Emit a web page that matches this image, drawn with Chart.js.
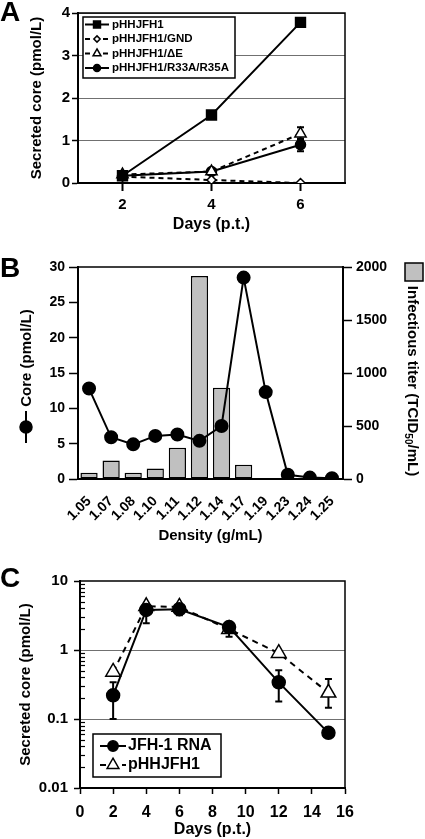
<!DOCTYPE html>
<html>
<head>
<meta charset="utf-8">
<script src="https://cdn.jsdelivr.net/npm/chart.js@4.4.1/dist/chart.umd.min.js"></script>
<style>
  html, body { margin: 0; padding: 0; background: #fff; }
  body { width: 425px; height: 839px; position: relative; overflow: hidden; }
  .panel { position: absolute; left: 0; width: 425px; }
  .letter { position: absolute; left: 0; font: bold 28px "Liberation Sans", Arial, sans-serif; line-height: 28px; color: #000; }
</style>
</head>
<body>
<div class="panel" style="top:0;height:235px"><canvas id="chartA"></canvas></div>
<div class="panel" style="top:250px;height:295px"><canvas id="chartB"></canvas></div>
<div class="panel" style="top:565px;height:274px"><canvas id="chartC"></canvas></div>
<div class="letter" style="top:-2px">A</div>
<div class="letter" style="top:254px">B</div>
<div class="letter" style="top:564px">C</div>
<script>
'use strict';

Chart.defaults.font.family = '"Liberation Sans", Arial, sans-serif';
Chart.defaults.font.weight = 'bold';
Chart.defaults.color = '#000';
Chart.defaults.animation = false;

// Panel A - secreted core after transfection
const daysA = ['2', '4', '6'];
const wtA = [0.17, 1.6, 3.78];
const gndA = [0.15, 0.07, 0.0];
const deltaEA = [0.2, 0.27, 1.16];
const r33A = [0.17, 0.27, 0.9];
const deltaEErrA = [0.04, 0.03, 0.15];
const r33ErrA = [0.03, 0.03, 0.15];
const ticksA = [0, 1, 2, 3, 4];

// Panel B - density gradient
const densityB = ['1.05', '1.07', '1.08', '1.10', '1.11', '1.12', '1.14', '1.17', '1.19', '1.23', '1.24', '1.25'];
const coreB = [12.8, 5.9, 4.9, 6.1, 6.3, 5.4, 7.5, 28.5, 12.3, 0.6, 0.2, 0.1];
const titerB = [60, 175, 60, 100, 295, 1915, 860, 135, 10, 3, 0, 0];

// Panel C - JFH-1 RNA vs pHHJFH1 (log scale)
const daysC = [2, 4, 6, 9, 12, 15];
const jfhC = [0.22, 3.8, 3.9, 2.15, 0.34, 0.063];
const jfhLowC = [0.1, 2.45, 3.2, 1.55, 0.18, null];
const jfhHighC = [0.34, 4.3, 4.3, 2.4, 0.51, null];
const phhC = [0.48, 4.3, 4.2, 2.0, 0.9, 0.24];
const phhLowC = [null, null, null, null, null, 0.145];
const phhHighC = [null, null, null, null, null, 0.38];
const decadesC = [0.01, 0.1, 1, 10];

const FONT = '"Liberation Sans", Arial, sans-serif';

function drawMarker(ctx, style, r, x, y, fill) {
  ctx.beginPath();
  if (style === 'rect') {
    const s = Math.SQRT1_2 * r;
    ctx.rect(x - s, y - s, 2 * s, 2 * s);
  } else if (style === 'rectRot') {
    ctx.moveTo(x, y - r); ctx.lineTo(x + r, y); ctx.lineTo(x, y + r); ctx.lineTo(x - r, y); ctx.closePath();
  } else if (style === 'triangle') {
    let a = 0;
    ctx.moveTo(x + Math.sin(a) * r, y - Math.cos(a) * r);
    a += Math.PI * 2 / 3; ctx.lineTo(x + Math.sin(a) * r, y - Math.cos(a) * r);
    a += Math.PI * 2 / 3; ctx.lineTo(x + Math.sin(a) * r, y - Math.cos(a) * r);
    ctx.closePath();
  } else {
    ctx.arc(x, y, r, 0, Math.PI * 2);
  }
  ctx.fillStyle = fill;
  ctx.fill();
  ctx.strokeStyle = '#000';
  ctx.lineWidth = 1.5;
  ctx.stroke();
}

// box round the plot area + error bars, under the markers
const frameAndErrors = {
  id: 'frameAndErrors',
  beforeDatasetsDraw(chart) {
    const ctx = chart.ctx;
    const a = chart.chartArea;
    ctx.save();
    ctx.strokeStyle = '#000';
    ctx.lineWidth = 1.5;
    ctx.strokeRect(a.left, a.top, a.right - a.left, a.bottom - a.top);
    // minor log ticks point inward
    const ys = chart.scales.y;
    if (ys.type === 'logarithmic') {
      ctx.lineWidth = 1.2;
      ys.ticks.forEach(t => {
        if (t.major) return;
        const py = Math.round(ys.getPixelForValue(t.value)) + 0.5;
        ctx.beginPath();
        ctx.moveTo(a.left, py); ctx.lineTo(a.left + 5, py);
        ctx.stroke();
      });
    }
    chart.data.datasets.forEach((ds, di) => {
      if (!ds.errLow) return;
      const meta = chart.getDatasetMeta(di);
      const yScale = chart.scales[meta.yAxisID];
      ctx.lineWidth = 2;
      meta.data.forEach((pt, i) => {
        const lo = ds.errLow[i], hi = ds.errHigh[i];
        if (lo == null) return;
        const y1 = yScale.getPixelForValue(lo);
        const y2 = yScale.getPixelForValue(hi);
        ctx.beginPath();
        ctx.moveTo(pt.x, y1); ctx.lineTo(pt.x, y2);
        ctx.moveTo(pt.x - 3.5, y1); ctx.lineTo(pt.x + 3.5, y1);
        ctx.moveTo(pt.x - 3.5, y2); ctx.lineTo(pt.x + 3.5, y2);
        ctx.stroke();
      });
    });
    ctx.restore();
  }
};

const boxLegend = {
  id: 'boxLegend',
  afterDraw(chart, args, opts) {
    if (!opts || !opts.w) return;
    const ctx = chart.ctx;
    ctx.save();
    ctx.fillStyle = '#fff';
    ctx.fillRect(opts.x, opts.y, opts.w, opts.h);
    ctx.strokeStyle = '#000';
    ctx.lineWidth = 1.5;
    ctx.strokeRect(opts.x, opts.y, opts.w, opts.h);
    ctx.font = 'bold ' + opts.fontSize + 'px ' + FONT;
    ctx.textBaseline = 'middle';
    chart.data.datasets.forEach((ds, i) => {
      const y = opts.y + opts.firstRow + i * opts.rowH;
      const x0 = opts.x + opts.lineX;
      ctx.strokeStyle = '#000';
      ctx.lineWidth = 2;
      ctx.setLineDash(ds.borderDash || []);
      ctx.beginPath();
      ctx.moveTo(x0, y); ctx.lineTo(x0 + opts.lineLen, y);
      ctx.stroke();
      ctx.setLineDash([]);
      drawMarker(ctx, ds.pointStyle, ds.pointRadius * opts.markerScale, x0 + opts.lineLen / 2, y, ds.pointBackgroundColor);
      ctx.fillStyle = '#000';
      ctx.fillText(ds.label, x0 + opts.lineLen + opts.gap, y);
    });
    ctx.restore();
  }
};

// y titles of panel B, with their little legend keys
const sideTitlesB = {
  id: 'sideTitlesB',
  afterDraw(chart) {
    const ctx = chart.ctx;
    const top = chart.chartArea.top;
    ctx.save();
    ctx.fillStyle = '#000';
    ctx.font = 'bold 15px ' + FONT;
    ctx.textAlign = 'center';
    ctx.textBaseline = 'middle';
    // left: core
    ctx.save();
    ctx.translate(27, top + 91);
    ctx.rotate(-Math.PI / 2);
    ctx.fillText('Core (pmol/L)', 0, 0);
    ctx.restore();
    ctx.strokeStyle = '#000';
    ctx.lineWidth = 2;
    ctx.beginPath();
    ctx.moveTo(26, top + 144); ctx.lineTo(26, top + 176);
    ctx.stroke();
    drawMarker(ctx, 'circle', 6, 26, top + 160, '#000');
    // right: infectious titer
    ctx.save();
    ctx.translate(412, top + 114);
    ctx.rotate(Math.PI / 2);
    ctx.textAlign = 'left';
    const p1 = 'Infectious titer (TCID', p2 = '50', p3 = '/mL)';
    ctx.font = 'bold 15px ' + FONT;
    const w1 = ctx.measureText(p1).width, w3 = ctx.measureText(p3).width;
    ctx.font = 'bold 10px ' + FONT;
    const w2 = ctx.measureText(p2).width;
    let x = -(w1 + w2 + w3) / 2;
    ctx.font = 'bold 15px ' + FONT;
    ctx.fillText(p1, x, 0); x += w1;
    ctx.font = 'bold 10px ' + FONT;
    ctx.fillText(p2, x, 4); x += w2;
    ctx.font = 'bold 15px ' + FONT;
    ctx.fillText(p3, x, 0);
    ctx.restore();
    ctx.fillStyle = '#c0c0c0';
    ctx.fillRect(405, top - 4, 18, 18);
    ctx.lineWidth = 1.5;
    ctx.strokeRect(405, top - 4, 18, 18);
    ctx.restore();
  }
};

function lineSet(label, data, style, radius, fill, dashed) {
  return {
    label: label,
    data: data,
    borderColor: '#000',
    borderWidth: 2,
    borderDash: dashed ? [5, 4] : [],
    pointStyle: style,
    pointRadius: radius,
    pointBackgroundColor: fill,
    pointBorderColor: '#000',
    pointBorderWidth: 1.5,
    tension: 0
  };
}

// ---------- A ----------
const dsA = [
  lineSet('pHHJFH1', wtA, 'rect', 7, '#000', false),
  lineSet('pHHJFH1/GND', gndA, 'rectRot', 4.5, '#fff', true),
  lineSet('pHHJFH1/\u0394E', deltaEA, 'triangle', 6.5, '#fff', true),
  lineSet('pHHJFH1/R33A/R35A', r33A, 'circle', 5, '#000', false)
];
dsA[2].errLow = deltaEA.map((v, i) => v - deltaEErrA[i]);
dsA[2].errHigh = deltaEA.map((v, i) => v + deltaEErrA[i]);
dsA[3].errLow = r33A.map((v, i) => v - r33ErrA[i]);
dsA[3].errHigh = r33A.map((v, i) => v + r33ErrA[i]);

new Chart(document.getElementById('chartA'), {
  type: 'line',
  data: { labels: daysA, datasets: dsA },
  options: {
    responsive: true,
    maintainAspectRatio: false,
    layout: { padding: { top: 13, right: 80, left: 0, bottom: 0 } },
    scales: {
      x: {
        offset: true,
        grid: { offset: false, drawOnChartArea: false, tickLength: 8, tickColor: '#000', tickWidth: 2 },
        border: { color: '#000', width: 2 },
        ticks: { font: { size: 15 }, padding: 5 },
        title: { display: true, text: 'Days (p.t.)', font: { size: 16 }, padding: { top: 0, bottom: 1 } },
        afterFit: s => { s.height = 52; }
      },
      y: {
        min: 0,
        max: 4,
        afterBuildTicks: s => { s.ticks = ticksA.map(v => ({ value: v })); },
        grid: { color: '#707070', tickColor: '#000', tickLength: 6, tickWidth: 1.5 },
        border: { color: '#000', width: 2 },
        ticks: { font: { size: 15 }, padding: 2 },
        title: { display: true, text: 'Secreted core (pmol/L)', font: { size: 15 }, padding: { top: 28, bottom: 0 } },
        afterFit: s => { s.width = 78; }
      }
    },
    plugins: {
      legend: { display: false },
      tooltip: { enabled: false },
      boxLegend: { x: 83, y: 17, w: 152, h: 61, firstRow: 7.5, rowH: 14.5, lineX: 2, lineLen: 24, gap: 3, fontSize: 11.5, markerScale: 0.7 }
    }
  },
  plugins: [frameAndErrors, boxLegend]
});

// ---------- B ----------
new Chart(document.getElementById('chartB'), {
  type: 'bar',
  data: {
    labels: densityB,
    datasets: [
      {
        type: 'line',
        label: 'Core',
        data: coreB,
        yAxisID: 'y',
        order: 0,
        borderColor: '#000',
        borderWidth: 2,
        pointStyle: 'circle',
        pointRadius: 6,
        pointBackgroundColor: '#000',
        pointBorderColor: '#000',
        tension: 0
      },
      {
        type: 'bar',
        label: 'Infectious titer',
        data: titerB,
        yAxisID: 'y2',
        order: 1,
        backgroundColor: '#c0c0c0',
        borderColor: '#000',
        borderWidth: 1.5,
        borderSkipped: false,
        barPercentage: 0.78,
        categoryPercentage: 1.0
      }
    ]
  },
  options: {
    responsive: true,
    maintainAspectRatio: false,
    layout: { padding: { top: 17, right: 0, left: 0, bottom: 0 } },
    scales: {
      x: {
        grid: { drawOnChartArea: false, drawTicks: false },
        border: { color: '#000', width: 2 },
        ticks: { font: { size: 14 }, minRotation: 45, maxRotation: 45, autoSkip: false, padding: 14 },
        title: { display: true, text: 'Density (g/mL)', font: { size: 15 }, padding: 0 },
        afterFit: s => { s.height = 66; }
      },
      y: {
        position: 'left',
        min: 0,
        max: 30,
        ticks: { stepSize: 5, font: { size: 14 }, padding: 4 },
        grid: { drawOnChartArea: false, tickLength: 9, tickColor: '#000', tickWidth: 1.5 },
        border: { color: '#000', width: 2 },
        afterFit: s => { s.width = 78; }
      },
      y2: {
        position: 'right',
        min: 0,
        max: 2000,
        ticks: { stepSize: 500, font: { size: 14 }, padding: 4, callback: v => String(v) },
        grid: { drawOnChartArea: false, tickLength: 9, tickColor: '#000', tickWidth: 1.5 },
        border: { color: '#000', width: 2 },
        afterFit: s => { s.width = 82; }
      }
    },
    plugins: { legend: { display: false }, tooltip: { enabled: false } }
  },
  plugins: [frameAndErrors, sideTitlesB]
});

// ---------- C ----------
const jfhSet = lineSet('JFH-1 RNA', daysC.map((d, i) => ({ x: d, y: jfhC[i] })), 'circle', 6.5, '#000', false);
jfhSet.errLow = jfhLowC;
jfhSet.errHigh = jfhHighC;
const phhSet = lineSet('pHHJFH1', daysC.map((d, i) => ({ x: d, y: phhC[i] })), 'triangle', 8.5, '#fff', true);
phhSet.borderDash = [6, 5];
phhSet.errLow = phhLowC;
phhSet.errHigh = phhHighC;

new Chart(document.getElementById('chartC'), {
  type: 'line',
  data: { datasets: [jfhSet, phhSet] },
  options: {
    responsive: true,
    maintainAspectRatio: false,
    layout: { padding: { top: 16, right: 80, left: 0, bottom: 0 } },
    scales: {
      x: {
        type: 'linear',
        min: 0,
        max: 16,
        ticks: { stepSize: 2, font: { size: 16 }, padding: 9 },
        grid: { drawOnChartArea: false, tickLength: 6, tickColor: '#000', tickWidth: 1.5 },
        border: { color: '#000', width: 2 },
        title: { display: true, text: 'Days (p.t.)', font: { size: 16 }, padding: { top: 0, bottom: 0 } },
        afterFit: s => { s.height = 51; }
      },
      y: {
        type: 'logarithmic',
        min: 0.01,
        max: 10,
        afterBuildTicks: s => {
          const t = [];
          decadesC.forEach((d, i) => {
            if (i === decadesC.length - 1) { t.push({ value: d, major: true }); return; }
            for (let k = 1; k < 10; k++) t.push({ value: d * k, major: k === 1 });
          });
          s.ticks = t;
        },
        ticks: {
          autoSkip: false,
          font: { size: 15 },
          padding: 6,
          callback: v => decadesC.includes(v) ? String(v) : ''
        },
        grid: {
          color: c => (c.tick && (c.tick.value === 1 || c.tick.value === 0.1)) ? '#707070' : 'rgba(0,0,0,0)',
          tickColor: c => (c.tick && c.tick.major) ? '#000' : 'rgba(0,0,0,0)',
          tickLength: 6,
          tickWidth: 1.5
        },
        border: { color: '#000', width: 2 },
        title: { display: true, text: 'Secreted core (pmol/L)', font: { size: 15 }, padding: { top: 17, bottom: 0 } },
        afterFit: s => { s.width = 80; }
      }
    },
    plugins: {
      legend: { display: false },
      tooltip: { enabled: false },
      boxLegend: { x: 93, y: 169, w: 128, h: 43, firstRow: 12, rowH: 19, lineX: 7, lineLen: 26, gap: 2, fontSize: 16, markerScale: 0.8 }
    }
  },
  plugins: [frameAndErrors, boxLegend]
});
</script>
</body>
</html>
